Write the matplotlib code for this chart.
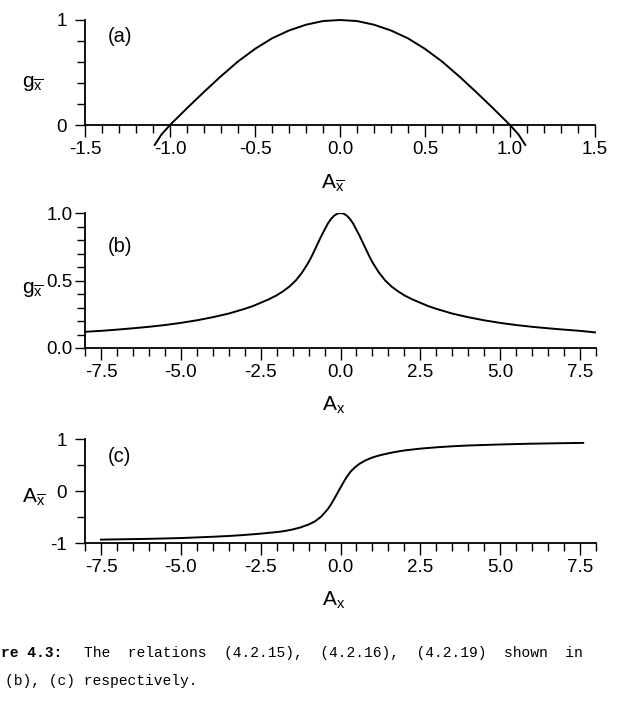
import numpy as np
import matplotlib.pyplot as plt
from matplotlib.ticker import MultipleLocator

plt.rcParams['font.family'] = ['Liberation Sans', 'DejaVu Sans']
plt.rcParams['mathtext.fontset'] = 'custom'
plt.rcParams['mathtext.rm'] = 'Liberation Sans'
plt.rcParams['mathtext.it'] = 'Liberation Sans'
plt.rcParams['mathtext.bf'] = 'Liberation Sans:bold'

# (a) g_xbar against A_xbar
a_x = [-1.09, -1.05, -1.0, -0.9, -0.8, -0.7, -0.6, -0.5, -0.4, -0.3, -0.2, -0.1,
       0.0, 0.1, 0.2, 0.3, 0.4, 0.5, 0.6, 0.7, 0.8, 0.9, 1.0, 1.05, 1.09]
a_y = [-0.19, -0.09, 0.0, 0.16, 0.315, 0.465, 0.605, 0.725, 0.825, 0.90, 0.955, 0.99,
       1.0, 0.99, 0.955, 0.90, 0.825, 0.725, 0.605, 0.465, 0.315, 0.16, 0.0, -0.09, -0.19]

# (b) g_xbar against A_x
b_x = [-8.0, -7.5, -7.0, -6.5, -6.0, -5.5, -5.0, -4.5, -4.0, -3.5, -3.0, -2.75, -2.5, -2.25,
       -2.0, -1.8, -1.6, -1.4, -1.2, -1.0, -0.9, -0.8, -0.7, -0.6, -0.5, -0.4, -0.3, -0.2, -0.1,
       0.0, 0.1, 0.2, 0.3, 0.4, 0.5, 0.6, 0.7, 0.8, 0.9, 1.0, 1.2, 1.4, 1.6, 1.8, 2.0,
       2.25, 2.5, 2.75, 3.0, 3.5, 4.0, 4.5, 5.0, 5.5, 6.0, 6.5, 7.0, 7.5, 8.0]
b_y = [0.12, 0.127, 0.136, 0.146, 0.157, 0.17, 0.186, 0.205, 0.228, 0.255, 0.29, 0.31, 0.335, 0.36,
       0.39, 0.42, 0.455, 0.50, 0.56, 0.635, 0.68, 0.73, 0.78, 0.83, 0.875, 0.92, 0.955, 0.98, 0.995,
       1.0, 0.995, 0.98, 0.955, 0.92, 0.875, 0.83, 0.78, 0.73, 0.68, 0.635, 0.56, 0.50, 0.455, 0.42, 0.39,
       0.36, 0.335, 0.31, 0.29, 0.255, 0.228, 0.205, 0.186, 0.17, 0.157, 0.146, 0.136, 0.127, 0.115]

# (c) A_xbar against A_x
c_x = [-7.5, -7.0, -6.0, -5.0, -4.0, -3.5, -3.0, -2.5, -2.0, -1.75, -1.5, -1.25, -1.0, -0.8,
       -0.6, -0.4, -0.3, -0.2, -0.1, 0.0, 0.1, 0.2, 0.3, 0.4, 0.5, 0.6, 0.8, 1.0, 1.25,
       1.5, 1.75, 2.0, 2.5, 3.0, 3.5, 4.0, 5.0, 6.0, 7.0, 7.6]
c_y = [-0.935, -0.93, -0.92, -0.905, -0.88, -0.865, -0.845, -0.82, -0.79, -0.77, -0.74, -0.70, -0.645, -0.585,
       -0.49, -0.35, -0.26, -0.155, -0.045, 0.065, 0.175, 0.275, 0.36, 0.425, 0.48, 0.525, 0.595, 0.645, 0.69,
       0.725, 0.755, 0.78, 0.815, 0.84, 0.86, 0.875, 0.895, 0.91, 0.92, 0.925]

a_xticks = [-1.5, -1.0, -0.5, 0.0, 0.5, 1.0, 1.5]
bc_xticks = [-7.5, -5.0, -2.5, 0.0, 2.5, 5.0, 7.5]

lab_a = r'$\mathrm{A}_{\overline{\mathrm{x}}}$'
lab_x = r'$\mathrm{A}_{\mathrm{x}}$'
lab_g = r'$\mathrm{g}_{\overline{\mathrm{x}}}$'

fig = plt.figure(figsize=(6.37, 7.15), dpi=100)
W, H = 637.0, 715.0


def make_axes(left, top, right, bottom):
    return fig.add_axes([left / W, 1 - bottom / H, (right - left) / W, (bottom - top) / H])


def style(ax, ypad):
    for s in ['top', 'right']:
        ax.spines[s].set_visible(False)
    for s in ['left', 'bottom']:
        ax.spines[s].set_linewidth(1.3)
    ax.tick_params(axis='x', which='major', direction='out', length=8.6, width=1.0,
                   labelsize=13.5, pad=3)
    ax.tick_params(axis='x', which='minor', direction='out', length=6.0, width=1.0)
    ax.tick_params(axis='y', which='major', direction='out', length=7.0, width=1.0,
                   labelsize=13.5, pad=ypad)
    ax.tick_params(axis='y', which='minor', direction='out', length=5.5, width=1.0)


ax1 = make_axes(85, 20, 595, 125)
ax2 = make_axes(85, 213, 596, 348)
ax3 = make_axes(85, 439, 596, 543)

# panel (a)
ax1.plot(a_x, a_y, color='black', lw=1.4, clip_on=False)
ax1.set_xlim(-1.5, 1.5)
ax1.set_ylim(0, 1)
ax1.set_xticks(a_xticks)
ax1.set_xticklabels(['%.1f' % v for v in a_xticks])
ax1.xaxis.set_minor_locator(MultipleLocator(0.1))
ax1.set_yticks([0, 1])
ax1.set_yticklabels(['0', '1'])
ax1.yaxis.set_minor_locator(MultipleLocator(0.2))
style(ax1, 6)
ax1.text(-1.365, 0.84, '(a)', fontsize=14.5, va='center', ha='left')
ax1.text(0.486, -0.60, lab_a, fontsize=15, transform=ax1.transAxes, ha='center', va='baseline')
ax1.text(-0.1235, 0.362, lab_g, fontsize=15, transform=ax1.transAxes, ha='left', va='baseline')

# panel (b)
ax2.plot(b_x, b_y, color='black', lw=1.4)
ax2.set_xlim(-8, 8)
ax2.set_ylim(0, 1)
ax2.set_xticks(bc_xticks)
ax2.set_xticklabels(['%.1f' % v for v in bc_xticks])
ax2.xaxis.set_minor_locator(MultipleLocator(0.5))
ax2.set_yticks([0.0, 0.5, 1.0])
ax2.set_yticklabels(['0.0', '0.5', '1.0'])
ax2.yaxis.set_minor_locator(MultipleLocator(0.1))
style(ax2, 2)
ax2.text(-7.28, 0.75, '(b)', fontsize=14.5, va='center', ha='left')
ax2.text(0.486, -0.467, lab_x, fontsize=15, transform=ax2.transAxes, ha='center', va='baseline')
ax2.text(-0.1235, 0.407, lab_g, fontsize=15, transform=ax2.transAxes, ha='left', va='baseline')

# panel (c)
ax3.plot(c_x, c_y, color='black', lw=1.4)
ax3.set_xlim(-8, 8)
ax3.set_ylim(-1, 1)
ax3.set_xticks(bc_xticks)
ax3.set_xticklabels(['%.1f' % v for v in bc_xticks])
ax3.xaxis.set_minor_locator(MultipleLocator(0.5))
ax3.set_yticks([-1, 0, 1])
ax3.set_yticklabels(['-1', '0', '1'])
ax3.yaxis.set_minor_locator(MultipleLocator(0.5))
style(ax3, 6)
ax3.text(-7.28, 0.67, '(c)', fontsize=14.5, va='center', ha='left')
ax3.text(0.486, -0.606, lab_x, fontsize=15, transform=ax3.transAxes, ha='center', va='baseline')
ax3.text(-0.1235, 0.394, lab_a, fontsize=15, transform=ax3.transAxes, ha='left', va='baseline')

# caption, as much of it as the scan shows
mono = 'Liberation Mono'
fig.text(1 / W, 1 - 653 / H, 're 4.3:', family=mono, fontsize=10.5,
         fontweight='bold', va='center', ha='left')
fig.text(84 / W, 1 - 653 / H, 'The  relations  (4.2.15),  (4.2.16),  (4.2.19)  shown  in',
         family=mono, fontsize=10.5, va='center', ha='left')
fig.text(5 / W, 1 - 681 / H, '(b), (c) respectively.', family=mono, fontsize=10.5,
         va='center', ha='left')

fig.savefig('out.png', dpi=100)
